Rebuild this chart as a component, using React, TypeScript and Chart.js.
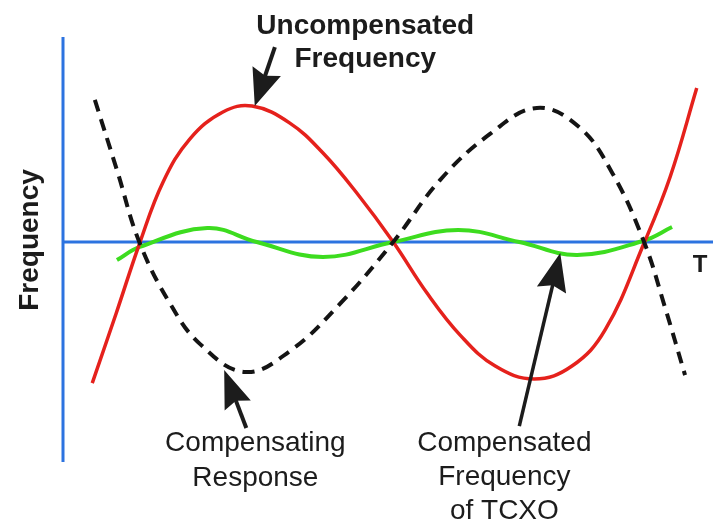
import React, { useEffect, useRef } from "react";
import { Chart, registerables } from "chart.js";

Chart.register(...registerables);

// ---- Data (T in arbitrary units 0..100, frequency deviation in arbitrary units) ----
const uncompensatedT = [4.5, 8.2, 11.8, 15.4, 19.5, 24.6, 29.1, 34.9, 40.0, 45.2, 50.8, 56.0, 61.1, 66.5, 72.5, 78.3, 83.4, 89.4, 93.4, 97.5];
const uncompensatedF = [-68.8, -34.6, -0.5, 29.3, 50.2, 63.4, 66.3, 58.0, 43.4, 23.9, 0, -24.9, -45.4, -60.5, -66.8, -60.5, -42.9, -0.5, 31.7, 75.1];

const compensatingT = [4.9, 8.3, 11.8, 16.5, 21.1, 28.0, 34.9, 42.6, 50.8, 58.0, 65.7, 72.9, 79.4, 84.5, 89.4, 92.6, 95.7];
const compensatingF = [69.3, 35.1, -0.5, -30.2, -49.8, -63.4, -53.2, -30.2, 0, 30.2, 52.7, 65.4, 56.1, 33.7, 0, -31.7, -64.9];

const compensatedT = [8.3, 11.8, 22.2, 29.8, 40.0, 50.8, 60.8, 70.2, 79.1, 89.2, 93.7];
const compensatedF = [-8.8, -2.4, 6.8, 0, -7.3, 0, 5.9, 0, -6.3, 0.5, 7.3];

const axisLabelX = "T";
const axisLabelY = "Frequency";

const toPoints = (xs: number[], ys: number[]) => xs.map((x, i) => ({ x, y: ys[i] }));

// ---- Styles ----
const FONT = "'Liberation Sans', Arial, sans-serif";
const TEXT_COLOR = "#1c1c1c";
const AXIS_COLOR = "#2c73e0";

type Label = { x: number; y: number; lines: string[]; bold: boolean; size: number; lineGap: number };
type Arrow = { fromX: number; fromY: number; toX: number; toY: number; head: number; half: number; width: number };

const labels: Label[] = [
  { x: 46.5, y: 101.4, lines: ["Uncompensated", "Frequency"], bold: true, size: 28, lineGap: 33 },
  { x: 29.6, y: -101.9, lines: ["Compensating", "Response"], bold: false, size: 28, lineGap: 35 },
  { x: 67.9, y: -101.9, lines: ["Compensated", "Frequency", "of TCXO"], bold: false, size: 28, lineGap: 34 },
];

const arrows: Arrow[] = [
  { fromX: 32.6, fromY: 95.1, toX: 29.5, toY: 66.3, head: 37, half: 15, width: 4 },
  { fromX: 28.2, fromY: -90.7, toX: 24.8, toY: -62.4, head: 38, half: 14, width: 4 },
  { fromX: 70.2, fromY: -89.8, toX: 76.5, toY: -5.4, head: 38, half: 15, width: 3.5 },
];

function drawArrow(ctx: CanvasRenderingContext2D, x1: number, y1: number, x2: number, y2: number, head: number, half: number, width: number) {
  const dx = x2 - x1, dy = y2 - y1;
  const len = Math.hypot(dx, dy);
  const ux = dx / len, uy = dy / len;
  const px = -uy, py = ux;
  const bx = x2 - ux * head, by = y2 - uy * head;
  ctx.lineWidth = width;
  ctx.lineCap = "butt";
  ctx.beginPath();
  ctx.moveTo(x1, y1);
  ctx.lineTo(bx + ux * 6, by + uy * 6);
  ctx.stroke();
  ctx.beginPath();
  ctx.moveTo(x2, y2);
  ctx.lineTo(bx + px * half, by + py * half);
  ctx.lineTo(bx + ux * 5, by + uy * 5);
  ctx.lineTo(bx - px * half, by - py * half);
  ctx.closePath();
  ctx.fill();
}

const diagramPlugin = {
  id: "diagram",
  beforeDatasetsDraw(chart: any) {
    const { ctx, chartArea, scales } = chart;
    const xs = scales.x, ys = scales.y;
    const x0 = xs.getPixelForValue(0);
    const y0 = ys.getPixelForValue(0);
    ctx.save();
    ctx.strokeStyle = AXIS_COLOR;
    ctx.lineWidth = 3;
    ctx.beginPath();
    ctx.moveTo(x0, chartArea.top);
    ctx.lineTo(x0, chartArea.bottom);
    ctx.moveTo(chartArea.left, y0);
    ctx.lineTo(chartArea.right, y0);
    ctx.stroke();
    ctx.restore();
  },
  afterDatasetsDraw(chart: any) {
    const { ctx, chartArea, scales } = chart;
    const xs = scales.x, ys = scales.y;
    ctx.save();
    ctx.fillStyle = TEXT_COLOR;
    ctx.strokeStyle = TEXT_COLOR;
    ctx.textAlign = "center";
    ctx.textBaseline = "alphabetic";

    for (const l of labels) {
      ctx.font = `${l.bold ? "bold " : ""}${l.size}px ${FONT}`;
      const px = xs.getPixelForValue(l.x);
      const py = ys.getPixelForValue(l.y);
      l.lines.forEach((t, i) => ctx.fillText(t, px, py + i * l.lineGap));
    }

    for (const a of arrows) {
      drawArrow(
        ctx,
        xs.getPixelForValue(a.fromX), ys.getPixelForValue(a.fromY),
        xs.getPixelForValue(a.toX), ys.getPixelForValue(a.toY),
        a.head, a.half, a.width
      );
    }

    // axis titles
    ctx.font = `bold 24px ${FONT}`;
    ctx.fillText(axisLabelX, xs.getPixelForValue(98.0), ys.getPixelForValue(-14.6));

    ctx.font = `bold 28px ${FONT}`;
    ctx.translate(chartArea.left - 25, ys.getPixelForValue(1));
    ctx.rotate(-Math.PI / 2);
    ctx.fillText(axisLabelY, 0, 0);
    ctx.restore();
  },
};

export default function App() {
  const canvasRef = useRef<HTMLCanvasElement | null>(null);

  useEffect(() => {
    if (!canvasRef.current) return;
    const common = { showLine: true, pointRadius: 0, tension: 0.4, fill: false };
    const chart = new Chart(canvasRef.current, {
      type: "scatter",
      data: {
        datasets: [
          {
            ...common,
            label: "Compensating Response",
            data: toPoints(compensatingT, compensatingF),
            borderColor: "#141414",
            borderWidth: 4,
            borderDash: [12, 8],
            order: 0,
          },
          {
            ...common,
            label: "Uncompensated Frequency",
            data: toPoints(uncompensatedT, uncompensatedF),
            borderColor: "#e5211c",
            borderWidth: 3.5,
            order: 1,
          },
          {
            ...common,
            label: "Compensated Frequency of TCXO",
            data: toPoints(compensatedT, compensatedF),
            borderColor: "#3ddc1f",
            borderWidth: 4,
            order: 2,
          },
        ],
      },
      options: {
        animation: false,
        responsive: false,
        maintainAspectRatio: false,
        layout: { padding: { left: 63, right: 6, top: 37, bottom: 61 } },
        scales: {
          x: { type: "linear", min: 0, max: 100, display: false },
          y: { type: "linear", min: -107.3, max: 100, display: false },
        },
        plugins: {
          legend: { display: false },
          tooltip: { enabled: false },
        },
      },
      plugins: [diagramPlugin],
    } as any);
    return () => chart.destroy();
  }, []);

  return (
    <div style={{ position: "fixed", left: 0, top: 0, width: 719, height: 523, background: "#ffffff" }}>
      <canvas ref={canvasRef} width={719} height={523} style={{ display: "block" }} />
    </div>
  );
}
